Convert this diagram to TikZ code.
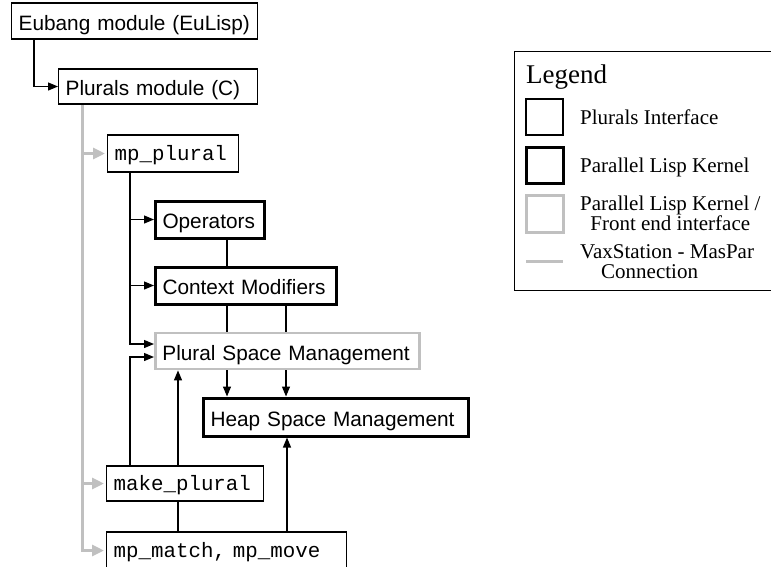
\documentclass[tikz,border=0pt]{standalone}
\usepackage{fontspec}
\setmainfont{Liberation Serif}
\setsansfont{Liberation Sans}
\setmonofont{Liberation Mono}
\usetikzlibrary{arrows.meta,calc,backgrounds}
\definecolor{lgray}{RGB}{192,192,192}
\tikzset{
  boxbase/.style={anchor=west, inner xsep=7pt, inner ysep=0pt, align=left, fill=white,
    font=\sffamily\fontsize{20.8}{24}\selectfont, text height=18pt, text depth=0pt},
  plainbox/.style={boxbase, draw=black, line width=1.3pt},
  kernelbox/.style={boxbase, draw=black, line width=3pt},
  frontbox/.style={boxbase, draw=lgray, line width=2.8pt},
  mono/.style={font=\ttfamily\fontsize{20.8}{24}\selectfont, text height=14pt},
  blackarr/.style={draw=black, line width=1.2pt, -{Triangle[length=10pt,width=8pt]}},
  blackline/.style={draw=black, line width=1.2pt},
  grayarr/.style={draw=lgray, line width=3pt, -{Triangle[length=12pt,width=11pt]}, shorten >=2pt},
  legtext/.style={font=\rmfamily\fontsize{21}{20}\selectfont, inner sep=0pt},
}
\begin{document}
\begin{tikzpicture}[x=1pt,y=-1pt]
\useasboundingbox (0,0) rectangle (771,566);
\clip (0,0) rectangle (771,566);

% main boxes
\node[plainbox, text width=232pt, minimum height=36pt] (eubang) at (11,21) {Eubang module (EuLisp)};
\node[plainbox, text width=185pt, minimum height=35pt] (plurals) at (58,86.5) {Plurals module (C)};
\node[plainbox, mono, text width=117pt, minimum height=37pt] (mpplural) at (107,153.5) {mp\_plural};
\node[kernelbox, text width=95pt, minimum height=37pt] (operators) at (154,219.5) {Operators};
\node[kernelbox, text width=167pt, minimum height=37pt] (context) at (154,285.5) {Context Modifiers};
\node[frontbox, text width=250pt, minimum height=36pt] (psm) at (154,351) {Plural Space Management};
\node[kernelbox, text width=251pt, minimum height=38pt] (heap) at (202,417) {Heap Space Management};
\node[plainbox, mono, text width=143pt, minimum height=35pt] (makeplural) at (106,483.5) {make\_plural};
\node[plainbox, mono, text width=226pt, minimum height=37pt] (mpmatch) at (106,550.5) {mp\_match, mp\_move};

% legend
\node[draw=black, line width=1.4pt, anchor=north west, minimum width=262pt, minimum height=239pt, inner sep=0pt] (legend) at (513.5,51) {};
\node[legtext, font=\rmfamily\fontsize{27}{30}\selectfont, anchor=base west] (legtitle) at (526,83) {Legend};
\node[draw=black, line width=1.3pt, minimum width=37pt, minimum height=36pt, inner sep=0pt] (sq1) at (544.5,117) {};
\node[draw=black, line width=3pt, minimum width=37pt, minimum height=36pt, inner sep=0pt] (sq2) at (544.5,165) {};
\node[draw=lgray, line width=3pt, minimum width=37pt, minimum height=37pt, inner sep=0pt] (sq3) at (544.5,213.5) {};
\draw[draw=lgray, line width=3pt] (526,261) -- (563,261);
\node[legtext, anchor=base west] (l1) at (580,124.5) {Plurals Interface};
\node[legtext, anchor=base west] (l2) at (580,172) {Parallel Lisp Kernel};
\node[legtext, anchor=base west, align=center] (l3) at (580,230.5) {Parallel Lisp Kernel /\\Front end interface};
\node[legtext, anchor=base west, align=left] (l4) at (580,278) {VaxStation - MasPar\\\hspace*{21pt}Connection};

\begin{scope}[on background layer]
\fill[white] (0,0) rectangle (771,566);
% Eubang -> Plurals
\draw[blackarr] ($(eubang.south west)+(23,0)$) |- (plurals.west);
% gray front-end links
\coordinate (g0) at ($(plurals.south west)+(24,0)$);
\draw[grayarr] (g0) |- (mpplural.west);
\draw[grayarr] (g0) |- (makeplural.west);
\draw[grayarr] (g0) |- (mpmatch.west);
% mp_plural calls
\coordinate (b0) at ($(mpplural.south west)+(23,0)$);
\draw[blackarr] (b0) |- (operators.west);
\draw[blackarr] (b0) |- (context.west);
\draw[blackarr] (b0) |- ($(psm.west)+(0,-7)$);
% make_plural calls
\coordinate (m0) at ($(makeplural.north west)+(24,0)$);
\draw[blackarr] (m0) |- ($(psm.west)+(0,6)$);
\coordinate (m1) at ($(makeplural.north west)+(72,0)$);
\draw[blackarr] (m1) -- (m1 |- psm.south);
\draw[blackline] (m1 |- makeplural.south) -- (m1 |- mpmatch.north);
% operators -- context
\coordinate (o0) at ($(operators.south west)+(73,0)$);
\draw[blackline] (o0) -- (o0 |- context.north);
% context -> heap (behind psm)
\coordinate (c1) at ($(context.south west)+(73,0)$);
\coordinate (c2) at ($(context.south west)+(132,0)$);
\draw[blackarr] (c1) -- (c1 |- heap.north);
\draw[blackarr] (c2) -- (c2 |- heap.north);
% mp_match -> heap
\coordinate (h0) at ($(mpmatch.north west)+(181,0)$);
\draw[blackarr] (h0) -- (h0 |- heap.south);
\end{scope}
\end{tikzpicture}
\end{document}
